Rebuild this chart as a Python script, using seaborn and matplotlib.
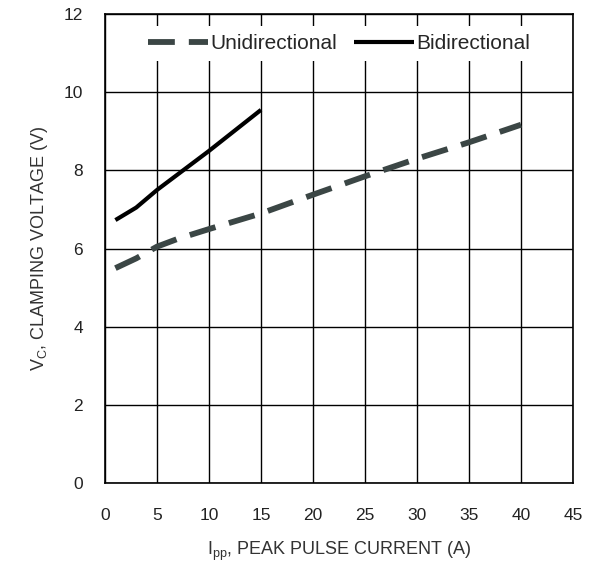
import numpy as np
import pandas as pd
import matplotlib
matplotlib.use("Agg")
import matplotlib.pyplot as plt
import seaborn as sns

# Values
uni_current = [1, 3, 5, 7, 10, 15, 20, 25, 30, 35, 40]
uni_voltage = [5.5, 5.75, 6.05, 6.25, 6.5, 6.9, 7.38, 7.85, 8.3, 8.72, 9.17]
bi_current = [1, 3, 5, 10, 15]
bi_voltage = [6.73, 7.05, 7.5, 8.5, 9.55]

x_ticks = [0, 5, 10, 15, 20, 25, 30, 35, 40, 45]
y_ticks = [0, 2, 4, 6, 8, 10, 12]

df = pd.concat([
    pd.DataFrame({'current': uni_current, 'voltage': uni_voltage, 'type': 'Unidirectional'}),
    pd.DataFrame({'current': bi_current, 'voltage': bi_voltage, 'type': 'Bidirectional'}),
], ignore_index=True)

sns.set_theme(style="white")
plt.rcParams['font.family'] = ['Liberation Sans', 'DejaVu Sans']
plt.rcParams['mathtext.fontset'] = 'custom'
plt.rcParams['mathtext.rm'] = 'Liberation Sans'

fig, ax = plt.subplots(figsize=(6.0, 5.65), dpi=100)
fig.subplots_adjust(left=0.175, right=0.955, top=0.975, bottom=0.145)

sns.lineplot(data=df, x='current', y='voltage', hue='type', style='type',
             palette={'Unidirectional': '#3b4645', 'Bidirectional': '#000000'},
             dashes={'Unidirectional': (4.6, 2.4), 'Bidirectional': ''},
             ax=ax, legend=False)
lines = ax.get_lines()
lines[0].set_linewidth(4.2)
lines[1].set_linewidth(3.0)
for ln in lines:
    ln.set_solid_capstyle('butt')
    ln.set_dash_capstyle('butt')

ax.set_xlim(0, 45)
ax.set_ylim(0, 12)
ax.set_xticks(x_ticks)
ax.set_yticks(y_ticks)
ax.grid(True, color='black', linewidth=1.0)
ax.set_axisbelow(True)
for s in ax.spines.values():
    s.set_color('black')
    s.set_linewidth(1.2)

ax.tick_params(axis='x', length=0, pad=18, labelsize=12.5, labelcolor='#222222')
ax.tick_params(axis='y', length=0, pad=16, labelsize=12.5, labelcolor='#222222')

ax.set_xlabel(r'I$_\mathregular{pp}$, PEAK PULSE CURRENT (A)', fontsize=13, color='#333333', labelpad=12)
ax.set_ylabel(r'V$_\mathregular{C}$, CLAMPING VOLTAGE (V)', fontsize=13, color='#333333', labelpad=10)

leg = ax.legend(lines, ['Unidirectional', 'Bidirectional'], loc='center',
                bbox_to_anchor=(0.5, 11.25 / 12), ncol=2, frameon=True,
                fontsize=15, handlelength=2.9, handletextpad=0.1,
                columnspacing=0.8, borderpad=0.4, borderaxespad=0)
leg.get_frame().set_facecolor('white')
leg.get_frame().set_edgecolor('none')
leg.get_frame().set_alpha(1)
leg.get_frame().set_boxstyle('square', pad=0)

fig.savefig('out.png', dpi=100)
